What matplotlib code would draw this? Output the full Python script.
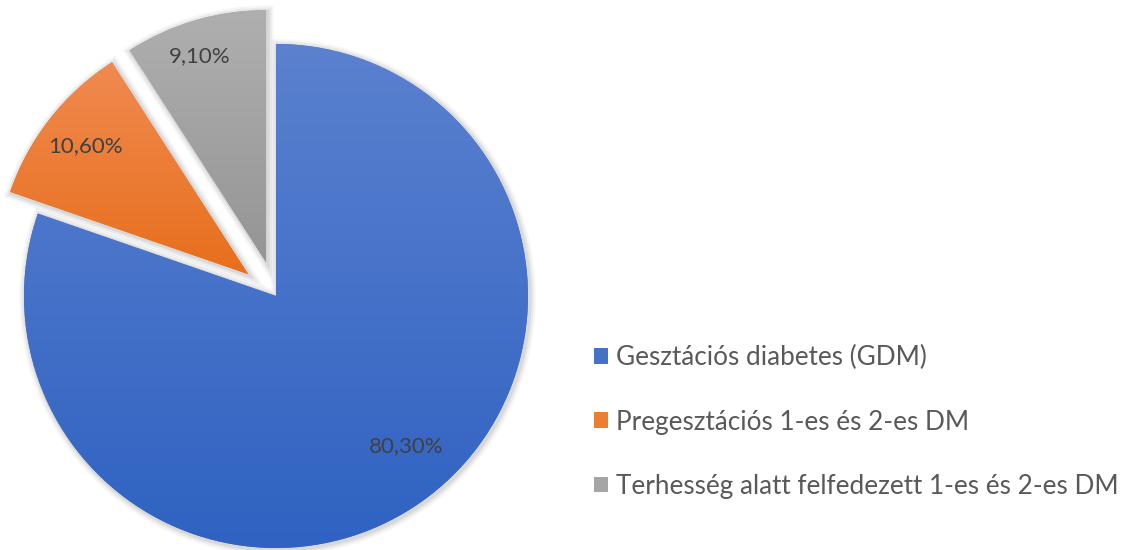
import numpy as np
import matplotlib
matplotlib.use("Agg")
from matplotlib import pyplot as plt
from matplotlib.colors import LinearSegmentedColormap
from matplotlib.patches import Patch, PathPatch
import matplotlib.transforms as mtransforms

labels = ["Gesztációs diabetes (GDM)",
          "Pregesztációs 1-es és 2-es DM",
          "Terhesség alatt felfedezett 1-es és 2-es DM"]
values = [80.3, 10.6, 9.1]
value_labels = ["80,30%", "10,60%", "9,10%"]
explode = [0, 0.14, 0.14]
colors = ["#4472C4", "#ED7D31", "#A5A5A5"]
grad_top = ["#5b81cf", "#f08a50", "#afafaf"]
grad_bottom = ["#2f62c2", "#e86f1c", "#959595"]

# label placement tweaks (angle shift in degrees, radial distance)
label_shift = [5.5, 0.0, 1.5]
label_dist = [0.79, 0.82, 0.86]

plt.rcParams['font.family'] = ['Lato', 'DejaVu Sans']

fig = plt.figure(figsize=(11.32, 5.5), dpi=100)
ax = fig.add_axes([0, 0, 1, 1])
R = 252.0
cx, cy = 276.0, 254.0
ax.set_aspect('equal')
ax.axis('off')

wedges, texts = ax.pie(
    values, explode=explode, startangle=90, counterclock=False,
    radius=1.0, center=(0, 0), colors=colors, wedgeprops=dict(linewidth=0))

# soft shadow + vertical gradient fill clipped to each wedge
for i, w in enumerate(wedges):
    path = w.get_path()
    tr = w.get_transform()
    for lw, a in [(9, 0.035), (6, 0.05), (3, 0.07)]:
        off = mtransforms.offset_copy(tr, fig=fig, x=1.5, y=-1.5, units='dots')
        sh = PathPatch(path, transform=off, facecolor='none',
                       edgecolor='black', linewidth=lw, alpha=a, zorder=0.5)
        ax.add_patch(sh)
    w.set_zorder(1)
    verts = ax.transData.inverted().transform(tr.transform(path.vertices))
    x0, x1 = verts[:, 0].min(), verts[:, 0].max()
    y0, y1 = verts[:, 1].min(), verts[:, 1].max()
    cmap = LinearSegmentedColormap.from_list("g%d" % i, [grad_bottom[i], grad_top[i]])
    grad = np.linspace(0, 1, 256).reshape(-1, 1)
    im = ax.imshow(grad, cmap=cmap, extent=(x0, x1, y0, y1), origin='lower',
                   aspect='auto', zorder=1.5, interpolation='bilinear')
    im.set_clip_path(w)

    # data label
    mid = np.deg2rad((w.theta1 + w.theta2) / 2 + label_shift[i])
    wc = w.center
    ax.text(wc[0] + label_dist[i] * np.cos(mid), wc[1] + label_dist[i] * np.sin(mid),
            value_labels[i], ha='center', va='center', color="#404040",
            fontsize=16, zorder=3)

for t in texts:
    t.set_text("")

ax.set_xlim(-cx / R, (1132 - cx) / R)
ax.set_ylim(-cy / R, (550 - cy) / R)

handles = [Patch(facecolor=c, edgecolor='none') for c in colors]
leg = ax.legend(handles, labels, loc='center left',
                bbox_to_anchor=(594 / 1132, 1 - 422 / 550),
                bbox_transform=fig.transFigure, frameon=False,
                fontsize=18.8, labelcolor="#595959",
                handlelength=0.55, handleheight=0.55, handletextpad=0.3,
                labelspacing=1.5, borderpad=0, borderaxespad=0)

fig.savefig("out.png", dpi=100)
